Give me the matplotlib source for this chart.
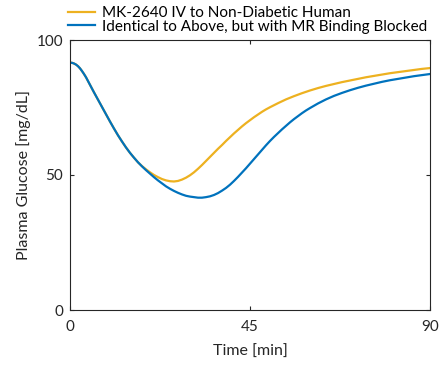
import numpy as np
import matplotlib.pyplot as plt

plt.rcParams['font.family'] = ['Lato', 'DejaVu Sans']

# glucose response [mg/dL] vs time [min]
T_BLOCKED = [0, 0.5, 1, 1.5, 2, 2.5, 3, 3.5, 4, 5, 6, 7, 8, 9, 10, 11, 12, 13, 14,
             15, 16, 17, 18, 19, 20, 21, 22, 23, 24, 25, 26, 27, 28, 29, 30, 31, 32,
             33, 34, 35, 36, 37, 38, 39, 40, 41, 42, 43, 44, 45, 46, 47, 48, 49, 50,
             51, 52, 53, 54, 55, 56, 57, 58, 59, 60, 62, 64, 66, 68, 70, 72, 74, 76,
             78, 80, 82, 84, 86, 88, 90]
G_BLOCKED = [91.6, 91.55, 91.3, 90.9, 90.3, 89.5, 88.5, 87.4, 86.2, 83.4, 80.6, 77.9,
             75.2, 72.5, 69.8, 67.2, 64.7, 62.4, 60.2, 58.2, 56.4, 54.7, 53.2, 51.8,
             50.5, 49.2, 48.0, 46.9, 45.8, 44.9, 44.1, 43.4, 42.8, 42.3, 42.0, 41.8,
             41.6, 41.6, 41.8, 42.1, 42.6, 43.3, 44.2, 45.2, 46.4, 47.8, 49.3, 50.9,
             52.5, 54.2, 55.9, 57.6, 59.3, 61.0, 62.6, 64.1, 65.5, 66.9, 68.2, 69.5,
             70.7, 71.8, 72.9, 73.9, 74.8, 76.5, 78.0, 79.3, 80.4, 81.4, 82.3, 83.1,
             83.8, 84.5, 85.1, 85.6, 86.1, 86.6, 87.0, 87.4]

T_NORMAL = [0, 0.5, 1, 1.5, 2, 2.5, 3, 3.5, 4, 5, 6, 7, 8, 9, 10, 11, 12, 13, 14,
            15, 16, 17, 18, 19, 20, 21, 22, 23, 24, 25, 26, 27, 28, 29, 30, 31, 32,
            33, 34, 35, 36, 37, 38, 39, 40, 41, 42, 43, 44, 45, 46, 47, 48, 49, 50,
            52, 54, 56, 58, 60, 62, 64, 66, 68, 70, 72, 74, 76, 78, 80, 82, 84, 86,
            88, 90]
G_NORMAL = [91.6, 91.55, 91.3, 90.9, 90.3, 89.5, 88.5, 87.4, 86.2, 83.4, 80.6, 77.9,
            75.2, 72.5, 69.8, 67.2, 64.7, 62.4, 60.2, 58.2, 56.4, 54.7, 53.3, 52.1,
            51.0, 50.0, 49.2, 48.5, 48.0, 47.7, 47.6, 47.8, 48.3, 49.0, 49.9, 51.0,
            52.3, 53.7, 55.2, 56.7, 58.2, 59.7, 61.1, 62.6, 64.0, 65.4, 66.7, 68.0,
            69.2, 70.3, 71.4, 72.4, 73.4, 74.3, 75.1, 76.6, 78.0, 79.2, 80.3, 81.3,
            82.2, 83.0, 83.7, 84.4, 85.0, 85.6, 86.2, 86.7, 87.2, 87.7, 88.1, 88.5,
            88.9, 89.3, 89.6]

LABELS = ['MK-2640 IV to Non-Diabetic Human',
          'Identical to Above, but with MR Binding Blocked']
COLORS = ['#EDB120', '#0072BD']
TEXT = '#262626'

fig = plt.figure(figsize=(4.4, 3.65), dpi=100)
ax = fig.add_axes([70 / 440, 1 - 310 / 365, 360 / 440, 270 / 365])

ax.plot(T_NORMAL, G_NORMAL, color=COLORS[0], lw=1.6, label=LABELS[0])
ax.plot(T_BLOCKED, G_BLOCKED, color=COLORS[1], lw=1.6, label=LABELS[1])

ax.set_xlim(0, 90)
ax.set_ylim(0, 100)
ax.set_xticks([0, 45, 90])
ax.set_yticks([0, 50, 100])
ax.tick_params(direction='in', top=True, right=True, length=3, labelsize=11,
               colors=TEXT, width=0.8)
ax.tick_params(axis='x', pad=7)
ax.tick_params(axis='y', pad=5)
for s in ax.spines.values():
    s.set_color(TEXT)
    s.set_linewidth(0.8)
ax.set_xlabel('Time [min]', fontsize=11.5, color=TEXT, labelpad=8)
ax.set_ylabel('Plasma Glucose [mg/dL]', fontsize=11.5, color=TEXT, labelpad=4)

ax.legend(loc='upper left', bbox_to_anchor=(68 / 440, 1 - 6 / 365),
          bbox_transform=fig.transFigure, frameon=False,
          fontsize=11, handlelength=1.75, handletextpad=0.45, labelspacing=-0.03,
          borderaxespad=0, borderpad=0.0)

fig.savefig('out.png', dpi=100)
